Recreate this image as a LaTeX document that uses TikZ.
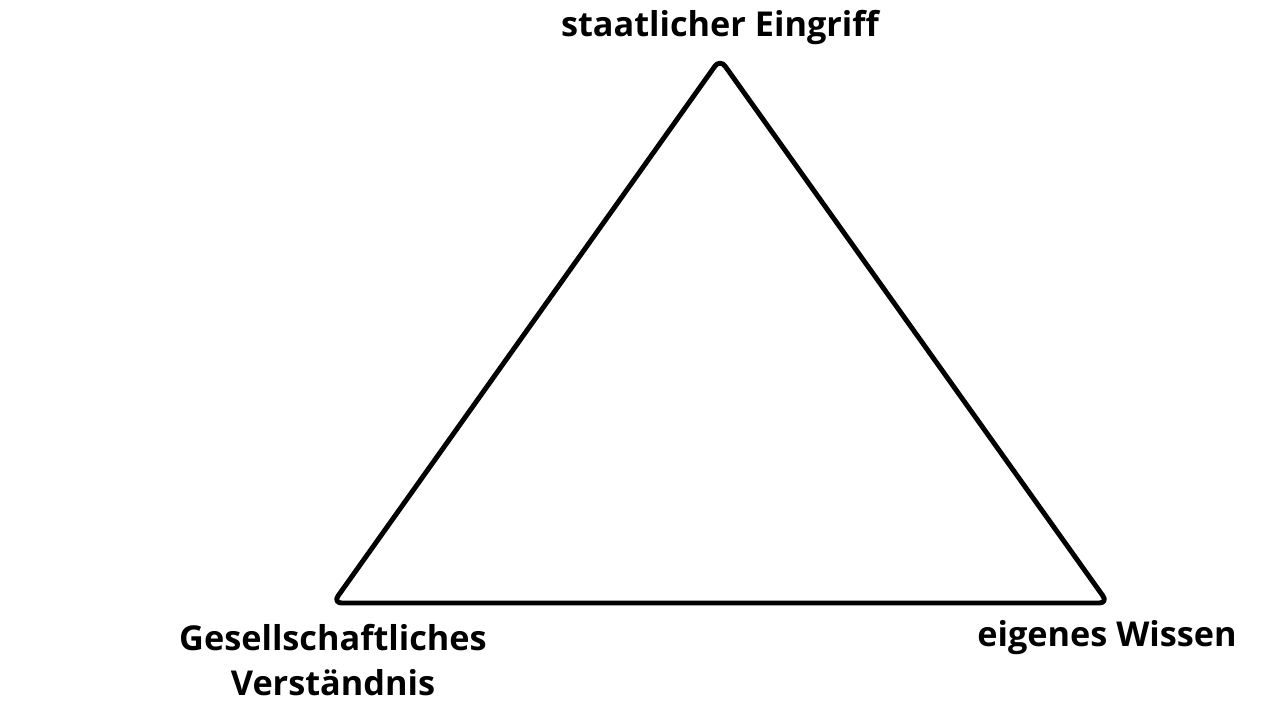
\documentclass[tikz,border=0pt]{standalone}
\usepackage{fontspec}
\setmainfont{Open Sans}
\usepackage{tikz}
\usetikzlibrary{positioning}
\tikzset{
    corner-label/.style = {font=\fontsize{19.5}{26}\selectfont\bfseries, align=center, inner sep=0pt},
    triangle-line/.style = {draw=black, line width=2.8pt, rounded corners=5pt, line join=round},
}

\begin{document}
\begin{tikzpicture}[x=0.02cm, y=-0.02cm]
\useasboundingbox (0,0) rectangle (1263,708);
\coordinate (top) at (720,59);
\coordinate (left) at (333,603);
\coordinate (right) at (1108,603);
\draw [triangle-line] (top) -- (right) -- (left) -- cycle;
\node [corner-label] (staat) at (720,28) {staatlicher Eingriff};
\node [corner-label] (gesell) at (333,660) {Gesellschaftliches\\Verständnis};
\node [corner-label] (wissen) at (1107,638) {eigenes Wissen};
\end{tikzpicture}
\end{document}
